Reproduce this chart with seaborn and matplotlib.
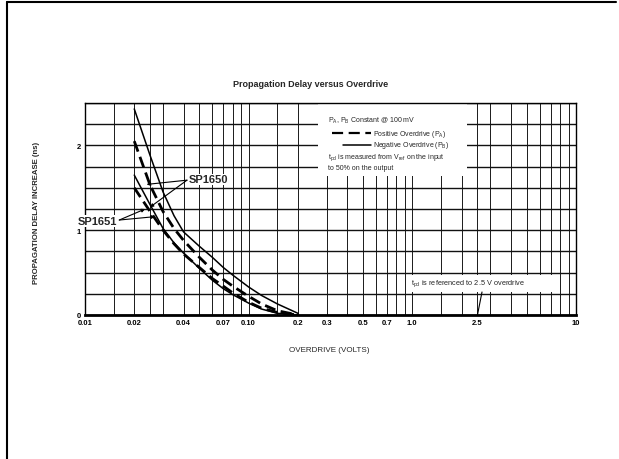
import matplotlib
matplotlib.use("Agg")
import matplotlib.pyplot as plt
from matplotlib.lines import Line2D
from matplotlib.patches import Rectangle
from matplotlib.ticker import NullFormatter
import seaborn as sns

# Datos (overdrive en V, incremento de retardo en ns)
overdrive = [0.020, 0.025, 0.030, 0.035, 0.040, 0.050, 0.060, 0.070, 0.080, 0.100, 0.120, 0.150, 0.200]
sp1650_neg = [2.43, 1.88, 1.45, 1.17, 0.98, 0.81, 0.68, 0.56, 0.47, 0.33, 0.23, 0.13, 0.02]
sp1650_pos = [2.05, 1.53, 1.22, 1.02, 0.88, 0.68, 0.53, 0.42, 0.34, 0.22, 0.13, 0.05, 0.00]
sp1651_neg = [1.65, 1.30, 1.02, 0.85, 0.73, 0.55, 0.41, 0.31, 0.24, 0.14, 0.07, 0.02, 0.00]
sp1651_pos = [1.50, 1.22, 1.00, 0.84, 0.72, 0.56, 0.43, 0.34, 0.26, 0.15, 0.08, 0.03, 0.00]

x_ticks = [0.01, 0.02, 0.04, 0.07, 0.1, 0.2, 0.3, 0.5, 0.7, 1.0, 2.5, 10]
x_tick_labels = ["0.01", "0.02", "0.04", "0.07", "0.10", "0.2", "0.3", "0.5", "0.7", "1.0", "2.5", "10"]
x_grid = [0.015, 0.025, 0.03, 0.05, 0.06, 0.08, 0.09, 0.15, 0.4, 0.6, 0.8, 0.9,
          1.5, 2, 3, 4, 5, 6, 7, 8, 9]
y_ticks = [0, 1, 2]
y_grid = [0.25, 0.5, 0.75, 1.25, 1.5, 1.75, 2.25, 2.5]

sns.set_theme(style="white")
plt.rcParams["font.family"] = ["Liberation Sans", "DejaVu Sans"]
plt.rcParams["mathtext.fontset"] = "custom"
plt.rcParams["mathtext.rm"] = "Liberation Sans"
plt.rcParams["mathtext.it"] = "Liberation Sans"

W, H = 619, 460
L, R, T, B = 85, 576, 104, 316  # caja del grafico en pixeles


def fx(xp):
    return xp / W


def fy(yp):
    return 1 - yp / H


def ax_xy(xp, yp):
    return ((xp - L) / (R - L), (B - yp) / (B - T))


fig = plt.figure(figsize=(W / 100, H / 100), dpi=100)
ax = fig.add_axes([fx(L), fy(B), (R - L) / W, (B - T) / H])

# curvas
curvas = [
    (sp1650_neg, "-", 1.1),
    (sp1650_pos, (0, (4, 2)), 2.0),
    (sp1651_neg, "-", 1.1),
    (sp1651_pos, (0, (4, 2)), 2.0),
]
for valores, estilo, grosor in curvas:
    sns.lineplot(x=overdrive, y=valores, ax=ax, color="black", lw=grosor,
                 linestyle=estilo, legend=False, zorder=3)

ax.set_xscale("log")
ax.set_xlim(0.01, 10)
ax.set_ylim(0, 2.5)
ax.set_xticks(x_ticks)
ax.set_xticklabels(x_tick_labels)
ax.set_xticks(x_grid, minor=True)
ax.xaxis.set_minor_formatter(NullFormatter())
ax.set_yticks(y_ticks)
ax.set_yticklabels([str(v) for v in y_ticks])
ax.set_yticks(y_grid, minor=True)
ax.set_axisbelow(True)
ax.grid(True, which="both", axis="x", color="#1a1a1a", lw=0.7)
ax.grid(True, which="both", axis="y", color="#111111", lw=1.0)
ax.tick_params(which="both", length=0, pad=3, labelsize=5.5, colors="black")
for lbl in ax.get_xticklabels() + ax.get_yticklabels():
    lbl.set_fontweight("bold")
for lado in ["top", "right", "left"]:
    ax.spines[lado].set_color("black")
    ax.spines[lado].set_linewidth(1.0)
ax.spines["bottom"].set_color("black")
ax.spines["bottom"].set_linewidth(2.0)
ax.set_xlabel("")
ax.set_ylabel("")

# caja de leyenda
x0, y0 = ax_xy(318, 177)
x1, y1 = ax_xy(467, 105)
ax.add_patch(Rectangle((x0, y0), x1 - x0, y1 - y0, transform=ax.transAxes,
                       facecolor="white", edgecolor="none", zorder=2.5))
fs = 5.0
ax.text(*ax_xy(328, 121), r"P$_\mathrm{A}$, P$_\mathrm{B}$ Constant @ 100 mV", transform=ax.transAxes,
        fontsize=fs, va="center", ha="left", zorder=4)
a, b = ax_xy(332, 134), ax_xy(371, 134)
ax.add_line(Line2D([a[0], b[0]], [a[1], b[1]], transform=ax.transAxes, color="black",
                   lw=1.6, linestyle=(0, (5, 2.5)), zorder=4))
ax.text(*ax_xy(373, 134), r"Positive Overdrive (P$_\mathrm{A}$)", transform=ax.transAxes,
        fontsize=fs, va="center", ha="left", zorder=4)
a, b = ax_xy(343, 146), ax_xy(371, 146)
ax.add_line(Line2D([a[0], b[0]], [a[1], b[1]], transform=ax.transAxes, color="black",
                   lw=1.1, zorder=4))
ax.text(*ax_xy(373, 146), r"Negative Overdrive (P$_\mathrm{B}$)", transform=ax.transAxes,
        fontsize=fs, va="center", ha="left", zorder=4)
ax.text(*ax_xy(328, 158), r"t$_\mathrm{pd}$ is measured from V$_\mathrm{ref}$ on the input",
        transform=ax.transAxes, fontsize=fs, va="center", ha="left", zorder=4)
ax.text(*ax_xy(328, 168), "to 50% on the output", transform=ax.transAxes,
        fontsize=fs, va="center", ha="left", zorder=4)

# caja de referencia 2.5 V
x0, y0 = ax_xy(407, 293)
x1, y1 = ax_xy(555, 276)
ax.add_patch(Rectangle((x0, y0), x1 - x0, y1 - y0, transform=ax.transAxes,
                       facecolor="white", edgecolor="none", zorder=2.5))
ax.text(*ax_xy(411, 284), r"t$_\mathrm{pd}$ is referenced to 2.5 V overdrive", transform=ax.transAxes,
        fontsize=5.3, va="center", ha="left", zorder=4)
ax.annotate("", xy=(2.5, 0), xycoords="data", xytext=ax_xy(482, 293), textcoords="axes fraction",
            arrowprops=dict(arrowstyle="-", color="black", lw=0.8, shrinkA=0, shrinkB=0), zorder=4)

# etiquetas SP1650 / SP1651
flecha = dict(arrowstyle="-|>", color="black", lw=0.8, mutation_scale=5, shrinkA=0, shrinkB=0)
ax.text(0.0428, 1.60, "SP1650", fontsize=8, fontweight="bold", ha="left", va="center", zorder=5,
        bbox=dict(facecolor="white", edgecolor="none", pad=0.5))
for destino in [(0.0238, 1.54), (0.0249, 1.27)]:
    ax.annotate("", xy=destino, xytext=(0.0420, 1.59), arrowprops=flecha, zorder=5)
ax.text(0.0158, 1.11, "SP1651", fontsize=8, fontweight="bold", ha="right", va="center", zorder=5,
        bbox=dict(facecolor="white", edgecolor="none", pad=0.5), clip_on=False)
for destino in [(0.0233, 1.25), (0.0268, 1.16)]:
    ax.annotate("", xy=destino, xytext=(0.0162, 1.12), arrowprops=flecha, zorder=5)

# titulos
fig.text(fx(311), fy(85), "Propagation Delay versus Overdrive", fontsize=6.5, fontweight="bold",
         ha="center", va="center")
fig.text(fx(329), fy(350), "OVERDRIVE (VOLTS)", fontsize=5.8, ha="center", va="center")
fig.text(fx(37), fy(213), "PROPAGATION DELAY INCREASE (ns)", fontsize=5.6, fontweight="bold",
         rotation=90, ha="center", va="center")

# marco de la pagina
fig.add_artist(Line2D([fx(7), fx(616)], [fy(3), fy(3)], color="black", lw=1.5))
fig.add_artist(Line2D([fx(7), fx(7)], [fy(3), fy(460)], color="black", lw=1.5))

fig.savefig("out.png", dpi=100, facecolor="white")
